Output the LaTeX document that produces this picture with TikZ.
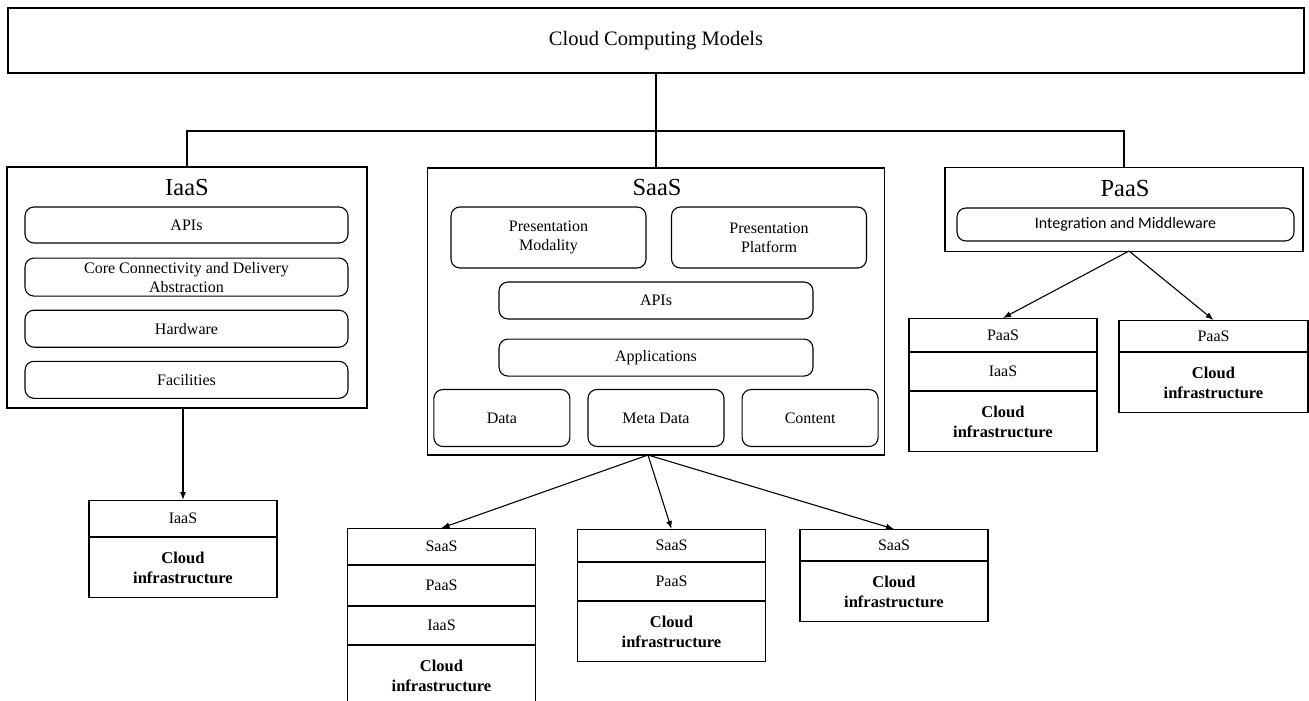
\documentclass[tikz,border=0pt]{standalone}
\usepackage{fontspec}
\setmainfont{Liberation Serif}
\newfontfamily\carlito{Carlito}
\usetikzlibrary{arrows.meta}
\usetikzlibrary{positioning}

\begin{document}
\begin{tikzpicture}[x=1pt, y=-1pt,
        model/.style={draw, line width=1.2pt, inner sep=0pt},
        title/.style={font=\fontsize{24.5}{28}\selectfont},
        layer/.style={draw, line width=1.1pt, rounded corners=9pt, align=center, inner sep=0pt,
            font=\fontsize{16}{19}\selectfont},
        cell/.style={draw, line width=1.1pt, minimum width=188pt, minimum height=36pt, inner sep=0pt,
            font=\fontsize{16}{19}\selectfont},
        infra/.style={cell, minimum height=60pt, align=center, font=\bfseries\fontsize{16.5}{19.5}\selectfont},
        >={Latex[length=8pt,width=6pt]}]
        \useasboundingbox (0,0) rectangle (1309,701);

        \node[model, minimum width=1296pt, minimum height=65pt, font=\fontsize{20.5}{24}\selectfont] (ccm) at (656,40.5) {Cloud Computing Models};

        % IaaS
        \node[model, minimum width=360pt, minimum height=241pt] (iaas) at (187,287.5) {};
        \node[title] (iaas-t) at (187,188) {IaaS};
        \node[layer, minimum width=323pt, minimum height=36pt] (i-api) at (186.5,225) {APIs};
        \node[layer, minimum width=323pt, minimum height=38pt, below=14pt of i-api] (i-core) {Core Connectivity and Delivery\\Abstraction};
        \node[layer, minimum width=323pt, minimum height=37pt, below=13pt of i-core] (i-hw) {Hardware};
        \node[layer, minimum width=323pt, minimum height=37pt, below=13pt of i-hw] (i-fac) {Facilities};

        % SaaS
        \node[model, minimum width=457pt, minimum height=287pt] (saas) at (656,311.5) {};
        \node[title] (saas-t) at (657,188) {SaaS};
        \node[layer, minimum width=195pt, minimum height=61pt] (s-pm) at (548.5,237.5) {Presentation\\Modality};
        \node[layer, minimum width=195pt, minimum height=61pt] (s-pp) at (769,237.5) {Presentation\\Platform};
        \node[layer, minimum width=314pt, minimum height=37pt] (s-api) at (656,300.5) {APIs};
        \node[layer, minimum width=314pt, minimum height=37pt, below=19pt of s-api] (s-app) {Applications};
        \node[layer, minimum width=136pt, minimum height=57pt] (s-meta) at (656,418) {Meta Data};
        \node[layer, minimum width=136pt, minimum height=57pt, left=17pt of s-meta] (s-data) {Data};
        \node[layer, minimum width=136pt, minimum height=57pt, right=17pt of s-meta] (s-cont) {Content};

        % PaaS
        \node[model, minimum width=358pt, minimum height=84pt] (paas) at (1124,209.5) {};
        \node[title] (paas-t) at (1125,189) {PaaS};
        \node[layer, minimum width=337pt, minimum height=33pt, font=\carlito\fontsize{16}{19}\selectfont] (p-im) at (1125.5,224.5) {Integration and Middleware};

        % stacks
        \node[cell, anchor=north] (is-1) at (183,500) {IaaS};
        \node[infra, below=0pt of is-1] (is-2) {Cloud\\infrastructure};

        \node[cell, anchor=north] (s1-1) at (441.5,528) {SaaS};
        \node[cell, minimum height=40pt, below=0pt of s1-1] (s1-2) {PaaS};
        \node[cell, minimum height=38pt, below=0pt of s1-2] (s1-3) {IaaS};
        \node[infra, below=0pt of s1-3] (s1-4) {Cloud\\infrastructure};

        \node[cell, minimum height=32pt, anchor=north] (s2-1) at (671.5,529) {SaaS};
        \node[cell, minimum height=38pt, below=0pt of s2-1] (s2-2) {PaaS};
        \node[infra, below=0pt of s2-2] (s2-3) {Cloud\\infrastructure};

        \node[cell, minimum height=31pt, anchor=north] (s3-1) at (894,529) {SaaS};
        \node[infra, below=0pt of s3-1] (s3-2) {Cloud\\infrastructure};

        \node[cell, minimum height=33pt, anchor=north] (ps1-1) at (1003,318) {PaaS};
        \node[cell, minimum height=38pt, below=0pt of ps1-1] (ps1-2) {IaaS};
        \node[infra, below=0pt of ps1-2] (ps1-3) {Cloud\\infrastructure};

        \node[cell, minimum width=189pt, minimum height=31pt, anchor=north] (ps2-1) at (1213.5,320) {PaaS};
        \node[infra, minimum width=189pt, below=0pt of ps2-1] (ps2-2) {Cloud\\infrastructure};

        \coordinate (bus) at (656,131);
        \coordinate (s-fork) at (648,455);
        \coordinate (p-fork) at (1129,251);

        \draw[line width=1.1pt] (ccm.south) -- (saas.north);
        \draw[line width=1.1pt] (iaas.north) |- (bus) -| (paas.north);
        \draw[->, line width=1.1pt] (iaas.south -| is-1.north) -- (is-1.north);
        \draw[->, line width=1.1pt] (s-fork) -- (s1-1.north);
        \draw[->, line width=1.1pt] (s-fork) -- (s2-1.north);
        \draw[->, line width=1.1pt] (s-fork) -- (s3-1.north);
        \draw[->, line width=1.1pt] (p-fork) -- (ps1-1.north);
        \draw[->, line width=1.1pt] (p-fork) -- (ps2-1.north);
    \end{tikzpicture}
\end{document}
